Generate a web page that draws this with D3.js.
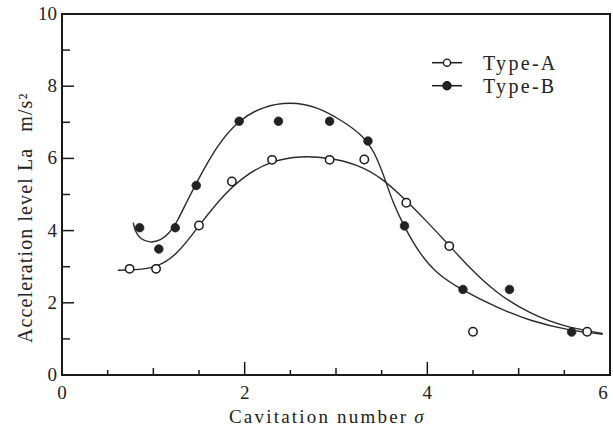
<!DOCTYPE html>
<html>
<head>
<meta charset="utf-8">
<script src="https://cdn.jsdelivr.net/npm/d3@7"></script>
<style>
  html, body { margin: 0; padding: 0; background: #fff; }
  svg { display: block; }
  text { font-family: "Liberation Serif", "Times New Roman", serif; fill: #222; }
</style>
</head>
<body>
<svg id="chart" width="613" height="431"></svg>
<script>
// Measured points: cavitation number sigma vs. acceleration level (m/s^2)
const sigmaA = [0.74, 1.03, 1.50, 1.86, 2.30, 2.93, 3.31, 3.77, 4.24, 4.50, 5.75];
const levelA = [2.94, 2.94, 4.14, 5.36, 5.96, 5.96, 5.97, 4.77, 3.57, 1.20, 1.20];
const sigmaB = [0.85, 1.06, 1.24, 1.47, 1.94, 2.37, 2.93, 3.35, 3.75, 4.39, 4.90, 5.58];
const levelB = [4.08, 3.49, 4.08, 5.25, 7.03, 7.03, 7.03, 6.48, 4.13, 2.37, 2.37, 1.19];

// Hand-fitted trend curves (control nodes along each curve)
const fitSigmaA = [0.61, 0.80, 1.03, 1.26, 1.50, 1.77, 2.02, 2.30, 2.61, 2.93, 3.23, 3.50, 3.77, 4.00, 4.23, 4.47, 4.76, 5.12, 5.49, 5.92];
const fitLevelA = [2.90, 2.91, 2.97, 3.32, 4.14, 5.00, 5.56, 5.94, 6.07, 6.02, 5.84, 5.47, 4.83, 4.24, 3.62, 2.94, 2.26, 1.70, 1.34, 1.15];
const fitSigmaB = [0.78, 0.80, 0.86, 0.96, 1.08, 1.18, 1.26, 1.37, 1.48, 1.69, 1.94, 2.20, 2.50, 2.79, 3.08, 3.30, 3.42, 3.52, 3.63, 3.75, 3.90, 4.10, 4.39, 4.76, 5.12, 5.56, 5.92];
const fitLevelB = [4.22, 3.98, 3.76, 3.66, 3.72, 3.94, 4.24, 4.82, 5.36, 6.34, 7.08, 7.44, 7.57, 7.44, 7.03, 6.62, 6.18, 5.55, 4.72, 4.10, 3.42, 2.80, 2.34, 1.87, 1.50, 1.23, 1.13];

const xTickLabels = [0, 2, 4, 6];
const yTickLabels = [0, 2, 4, 6, 8, 10];
const seriesNames = ["Type-A", "Type-B"];

const svg = d3.select("#chart");
const margin = { left: 62, top: 14, right: 3, bottom: 56 };
const W = 613, H = 431;
const x = d3.scaleLinear().domain([0, 6]).range([margin.left, W - margin.right]);
const y = d3.scaleLinear().domain([0, 10]).range([H - margin.bottom, margin.top]);

const ink = "#1a1a1a";

// Frame
svg.append("rect")
  .attr("x", x(0)).attr("y", y(10))
  .attr("width", x(6) - x(0)).attr("height", y(0) - y(10))
  .attr("fill", "none").attr("stroke", ink).attr("stroke-width", 2);

// X axis: ticks point inward (upward)
const xTicks = d3.range(0.5, 6, 0.5);
svg.append("g").selectAll("line").data(xTicks).join("line")
  .attr("x1", d => x(d)).attr("x2", d => x(d))
  .attr("y1", y(0))
  .attr("y2", d => y(0) - (d % 2 === 0 ? 13 : (d % 1 === 0 ? 7 : 5)))
  .attr("stroke", ink).attr("stroke-width", 1.5);

svg.append("g").selectAll("text").data(xTickLabels).join("text")
  .attr("x", d => Math.min(x(d), W - 10)).attr("y", y(0) + 24)
  .attr("text-anchor", "middle").attr("font-size", 19)
  .text(d => d);

// Y axis: ticks point inward (rightward)
const yTicks = d3.range(1, 10, 1);
svg.append("g").selectAll("line").data(yTicks).join("line")
  .attr("x1", x(0)).attr("x2", d => x(0) + (d % 2 === 0 ? 12 : 8))
  .attr("y1", d => y(d)).attr("y2", d => y(d))
  .attr("stroke", ink).attr("stroke-width", 1.5);

svg.append("g").selectAll("text").data(yTickLabels).join("text")
  .attr("x", x(0) - 5).attr("y", d => y(d) + 6)
  .attr("text-anchor", "end").attr("font-size", 19)
  .text(d => d);

// Axis titles
const xt = svg.append("text")
  .attr("x", 229).attr("y", 423)
  .attr("font-size", 19).attr("letter-spacing", "2.2px");
xt.append("tspan").text("Cavitation number");
xt.append("tspan").attr("dx", 6).attr("font-style", "italic").text("σ");

const yt = svg.append("text")
  .attr("transform", "translate(32,343) rotate(-90)")
  .attr("font-size", 20).attr("letter-spacing", "1.1px");
yt.append("tspan").text("Acceleration level La");
yt.append("tspan").attr("dx", 16).text("m/s²");

// Trend curves
const line = d3.line().x(d => x(d[0])).y(d => y(d[1])).curve(d3.curveBasis);
const fitA = fitSigmaA.map((s, i) => [s, fitLevelA[i]]);
const fitB = fitSigmaB.map((s, i) => [s, fitLevelB[i]]);
svg.append("path").attr("d", line(fitA)).attr("fill", "none").attr("stroke", "#2a2a2a").attr("stroke-width", 1.4);
svg.append("path").attr("d", line(fitB)).attr("fill", "none").attr("stroke", "#2a2a2a").attr("stroke-width", 1.4);

// Markers
const ptsA = sigmaA.map((s, i) => [s, levelA[i]]);
const ptsB = sigmaB.map((s, i) => [s, levelB[i]]);
svg.append("g").selectAll("circle").data(ptsA).join("circle")
  .attr("cx", d => x(d[0])).attr("cy", d => y(d[1])).attr("r", 4.2)
  .attr("fill", "#fff").attr("stroke", ink).attr("stroke-width", 1.5);
svg.append("g").selectAll("circle").data(ptsB).join("circle")
  .attr("cx", d => x(d[0])).attr("cy", d => y(d[1])).attr("r", 4.3)
  .attr("fill", "#222").attr("stroke", "#222").attr("stroke-width", 0.8);

// Legend
const legend = svg.append("g");
seriesNames.forEach((name, i) => {
  const ly = 62.7 + i * 23;
  legend.append("line").attr("x1", 432).attr("x2", 462).attr("y1", ly).attr("y2", ly)
    .attr("stroke", ink).attr("stroke-width", 1.5);
  legend.append("circle").attr("cx", 447).attr("cy", ly).attr("r", i === 0 ? 3.6 : 4)
    .attr("fill", i === 0 ? "#fff" : "#222").attr("stroke", ink).attr("stroke-width", 1.4);
  legend.append("text").attr("x", 483).attr("y", ly + 7)
    .attr("font-size", 20).attr("letter-spacing", "2.3px").text(name);
});
</script>
</body>
</html>
